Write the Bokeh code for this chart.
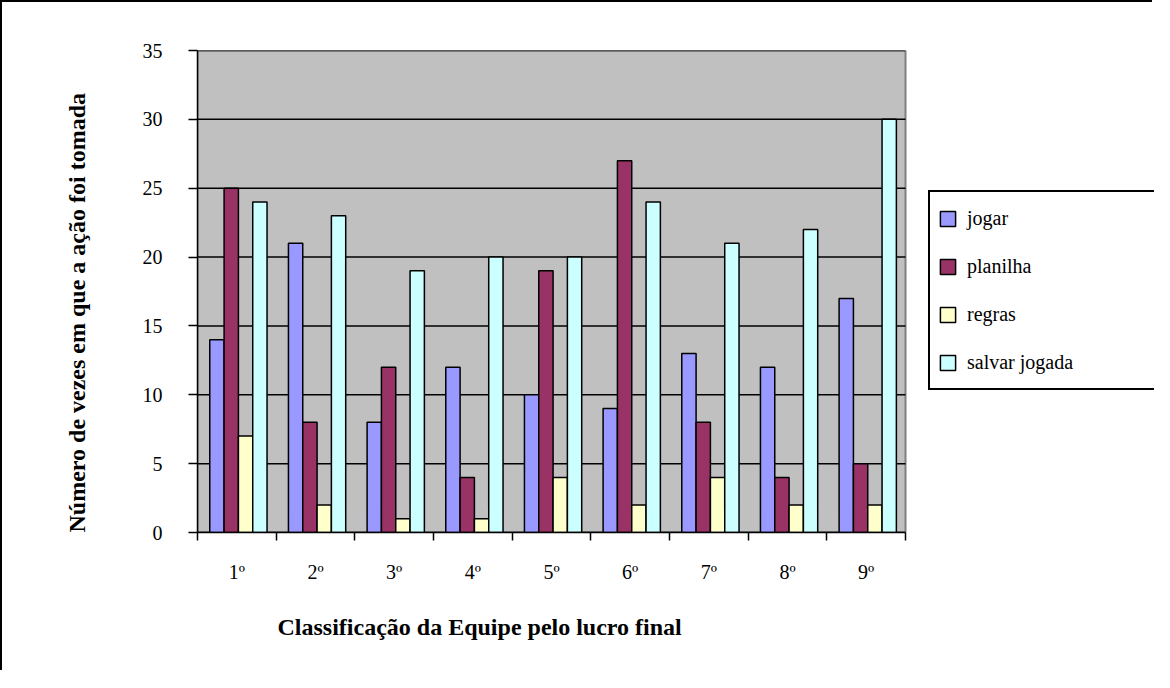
from bokeh.plotting import figure
from bokeh.models import (ColumnDataSource, FixedTicker, Legend, LegendItem,
                          Title, Range1d)
from bokeh.embed import file_html
from bokeh.resources import INLINE

categories = ["1º", "2º", "3º", "4º", "5º", "6º", "7º", "8º", "9º"]
series_names = ["jogar", "planilha", "regras", "salvar jogada"]
jogar = [14, 21, 8, 12, 10, 9, 13, 12, 17]
planilha = [25, 8, 12, 4, 19, 27, 8, 4, 5]
regras = [7, 2, 1, 1, 4, 2, 4, 2, 2]
salvar_jogada = [24, 23, 19, 20, 20, 24, 21, 22, 30]
y_ticks = [0, 5, 10, 15, 20, 25, 30, 35]
x_title = "Classificação da Equipe pelo lucro final"
y_title = "Número de vezes em que a ação foi tomada"

colors = ["#9999FF", "#993366", "#FFFFCC", "#CCFFFF"]
values = [jogar, planilha, regras, salvar_jogada]

FONT = "Liberation Serif"
n = len(categories)
ymax = max(y_ticks)

# frame spans from the y axis to the right edge so the legend is not clipped
W, H = 1152, 670
LEFT, TOP, BOTTOM = 195, 48, 140
PX_PER_CAT = 708 / n
x_end = (W - LEFT) / PX_PER_CAT

p = figure(width=W, height=H, output_backend="svg", toolbar_location=None,
           x_range=Range1d(0, x_end), y_range=Range1d(0, ymax),
           min_border_left=LEFT, min_border_right=0, min_border_top=TOP,
           min_border_bottom=BOTTOM)
p.styles = {"border-left": "2px solid black", "border-top": "2px solid black"}
p.background_fill_color = "white"
p.border_fill_color = "white"
p.outline_line_color = None
p.xgrid.grid_line_color = None
p.ygrid.grid_line_color = None

# grey wall of the plot area
p.quad(left=[0], right=[n], bottom=[0], top=[ymax], fill_color="#C0C0C0",
       line_color="#808080", line_width=2)
# horizontal grid lines across the plot area
p.segment(x0=[0] * len(y_ticks), x1=[n] * len(y_ticks), y0=y_ticks, y1=y_ticks,
          line_color="black", line_width=1.5)

centers = [i + 0.5 for i in range(n)]
bw = 0.182
offsets = [-1.5 * bw, -0.5 * bw, 0.5 * bw, 1.5 * bw]

renderers = []
for name, vals, col, off in zip(series_names, values, colors, offsets):
    src = ColumnDataSource(dict(x=[c + off + 0.02 for c in centers], top=vals))
    r = p.vbar(x="x", top="top", width=bw, bottom=0, source=src,
               fill_color=col, line_color="black", line_width=1.5)
    renderers.append((name, r))

# x axis
xa = p.xaxis[0]
xa.bounds = (0, n)
xa.ticker = FixedTicker(ticks=centers, minor_ticks=list(range(n + 1)))
xa.major_label_overrides = {c: lab for c, lab in zip(centers, categories)}
xa.major_tick_out = 0
xa.major_tick_in = 0
xa.minor_tick_out = 8
xa.minor_tick_in = 0
xa.minor_tick_line_color = "black"
xa.minor_tick_line_width = 1.5
xa.major_label_standoff = 20
xa.major_label_text_font = FONT
xa.major_label_text_font_size = "20px"
xa.major_label_text_color = "black"
xa.axis_line_color = "black"
xa.axis_line_width = 1.5

# y axis
ya = p.yaxis[0]
ya.bounds = (0, ymax)
ya.ticker = FixedTicker(ticks=y_ticks)
ya.major_tick_out = 9
ya.major_tick_in = 0
ya.minor_tick_line_color = None
ya.major_tick_line_color = "black"
ya.major_tick_line_width = 1.5
ya.major_label_standoff = 26
ya.major_label_text_font = FONT
ya.major_label_text_font_size = "20px"
ya.major_label_text_color = "black"
ya.axis_line_color = "black"
ya.axis_line_width = 1.5

# axis titles
p.add_layout(Title(text=x_title, align="left", offset=80, standoff=53,
                   text_font=FONT, text_font_size="24px", text_font_style="bold",
                   text_color="black"), "below")
p.add_layout(Title(text=y_title, align="left", offset=0, standoff=100,
                   text_font=FONT, text_font_size="24px", text_font_style="bold",
                   text_color="black"), "left")

legend = Legend(items=[LegendItem(label=nm, renderers=[r]) for nm, r in renderers],
                location=(731, 142), orientation="vertical",
                glyph_width=19, glyph_height=19, label_standoff=10,
                label_height=36, label_width=240, spacing=12, padding=8,
                margin=0, border_line_color="black", border_line_width=2,
                border_line_alpha=1,
                background_fill_color="white", background_fill_alpha=1,
                label_text_font=FONT, label_text_font_size="20px",
                label_text_color="black")
p.add_layout(legend, "center")

open("out.html", "w").write(file_html(p, INLINE))
